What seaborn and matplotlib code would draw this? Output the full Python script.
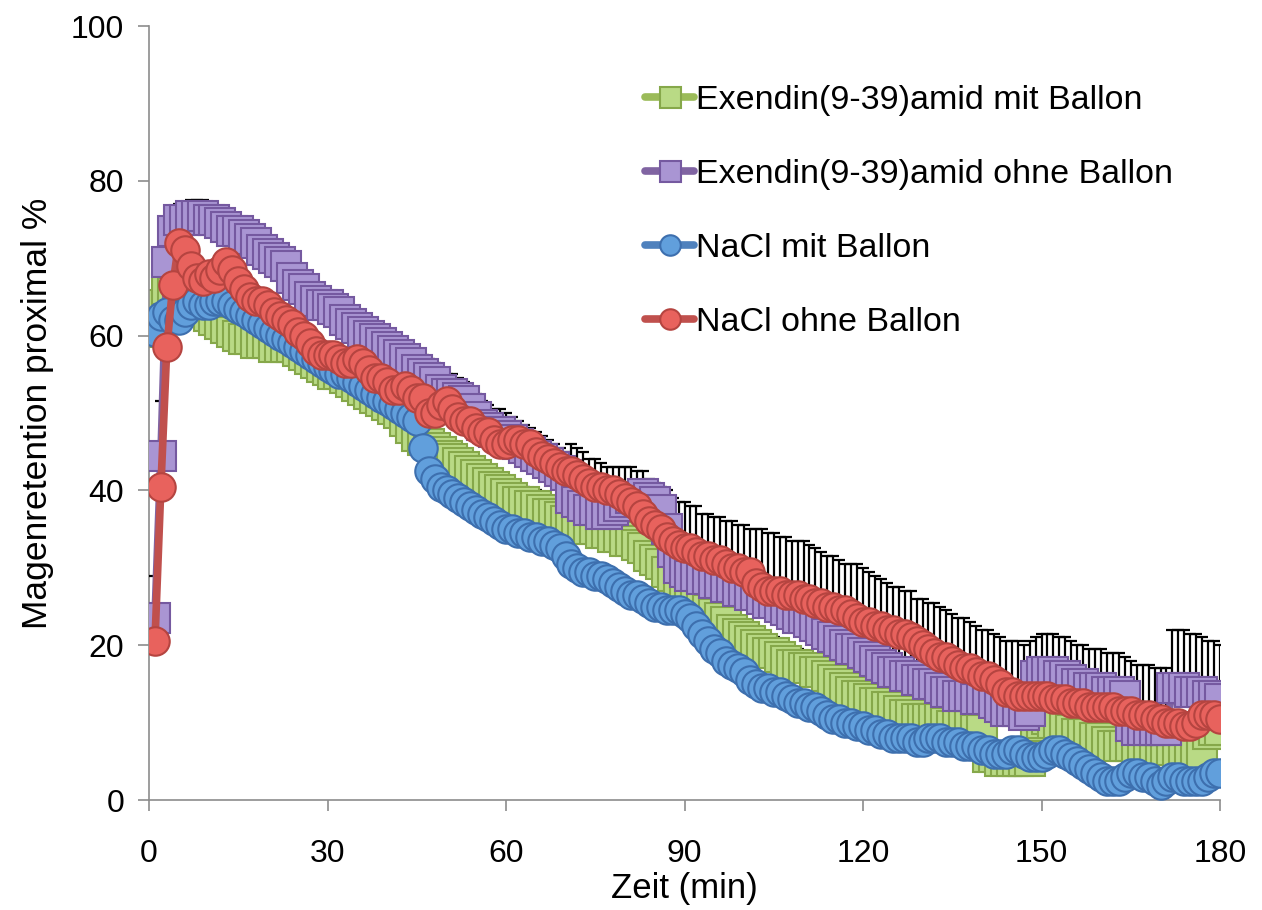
import numpy as np
import pandas as pd
import matplotlib
matplotlib.use("Agg")
import matplotlib.pyplot as plt
import seaborn as sns

# Zeitpunkte (min)
zeit = list(range(1, 181))

# Magenretention proximal (%) je Gruppe
exendin_mit = [
    60.5, 64.0, 66.0, 65.5, 64.5, 64.0, 63.5, 63.5, 63.0, 62.5,
    62.0, 61.5, 61.0, 60.5, 60.0, 59.5, 59.5, 59.0, 59.0, 59.0,
    58.5, 58.5, 58.5, 58.5, 58.0, 57.5, 57.0, 56.5, 56.0, 55.5,
    55.0, 55.0, 54.5, 54.0, 53.5, 53.0, 52.5, 52.0, 51.5, 51.0,
    50.5, 50.0, 49.0, 48.0, 47.0, 46.5, 46.0, 45.5, 45.0, 44.5,
    44.0, 43.5, 43.0, 42.5, 42.0, 41.5, 41.0, 40.5, 40.0, 39.5,
    39.0, 38.5, 38.5, 38.0, 38.0, 37.5, 37.0, 37.0, 36.5, 36.0,
    36.0, 35.5, 35.5, 35.0, 35.0, 34.5, 34.5, 34.0, 34.0, 33.5,
    33.5, 33.0, 32.5, 31.5, 31.0, 30.5, 29.5, 29.0, 28.0, 27.5,
    26.5, 26.0, 25.0, 24.5, 24.0, 23.5, 23.0, 22.0, 21.5, 21.0,
    20.5, 20.0, 19.5, 19.0, 19.0, 18.5, 18.0, 17.5, 17.5, 17.0,
    17.0, 16.5, 16.5, 16.0, 15.5, 15.0, 14.5, 14.0, 13.5, 13.5,
    13.0, 12.5, 12.5, 12.0, 12.0, 11.5, 11.0, 11.0, 10.5, 10.5,
    10.5, 10.5, 10.5, 10.0, 9.5, 9.5, 9.5, 9.5, 9.0, 9.0,
    5.5, 5.5, 5.0, 5.0, 5.0, 5.0, 5.0, 5.0, 9.5, 10.0,
    10.5, 10.0, 10.0, 9.5, 9.0, 8.5, 8.5, 8.5, 8.0, 8.0,
    7.5, 7.0, 7.0, 7.0, 7.0, 6.5, 6.5, 6.5, 6.5, 6.5,
    6.5, 6.5, 6.0, 6.0, 6.0, 6.0, 6.0, 8.5, 9.0, 9.0,
]
exendin_ohne = [
    23.5, 44.5, 69.5, 73.5, 75.0, 75.0, 75.5, 75.5, 75.5, 75.0,
    75.0, 74.5, 74.0, 73.5, 73.5, 73.0, 72.5, 72.0, 71.0, 70.5,
    70.0, 69.5, 69.0, 67.5, 66.5, 66.0, 65.0, 64.5, 64.0, 64.0,
    63.5, 63.0, 62.0, 61.5, 61.0, 60.5, 60.0, 59.5, 59.0, 58.5,
    58.0, 57.5, 57.0, 56.5, 55.5, 55.0, 54.5, 54.0, 53.0, 52.5,
    52.5, 52.0, 51.5, 50.5, 49.5, 48.5, 48.0, 47.5, 47.5, 47.0,
    46.5, 46.0, 45.5, 45.0, 44.5, 44.0, 43.5, 43.0, 42.5, 42.0,
    39.0, 38.5, 38.0, 37.5, 37.5, 37.0, 37.0, 37.5, 38.0, 38.5,
    39.0, 39.0, 39.5, 39.0, 38.5, 37.5, 35.0, 32.0, 30.0, 29.5,
    29.0, 29.0, 28.5, 28.5, 28.0, 28.0, 27.5, 27.5, 27.0, 27.0,
    26.5, 26.5, 26.0, 25.5, 25.5, 25.0, 24.5, 24.0, 23.5, 23.5,
    23.0, 22.5, 22.0, 21.5, 21.0, 20.5, 20.0, 19.5, 19.5, 19.0,
    18.5, 18.0, 17.5, 17.0, 16.5, 16.5, 16.0, 16.0, 15.5, 15.5,
    15.0, 15.0, 14.5, 14.0, 14.0, 13.5, 13.5, 13.5, 13.0, 13.0,
    13.0, 12.5, 12.0, 11.5, 11.5, 11.5, 11.0, 11.5, 16.0, 16.5,
    16.5, 16.5, 16.0, 16.0, 15.5, 15.0, 15.0, 14.5, 14.5, 14.5,
    14.0, 14.0, 14.0, 13.5, 9.5, 9.0, 9.0, 9.0, 9.0, 9.0,
    9.0, 14.5, 14.5, 14.5, 14.0, 14.0, 14.0, 13.5, 13.5, 13.0,
]
nacl_mit = [
    60.5, 62.5, 63.0, 62.0, 62.0, 63.0, 64.0, 64.5, 64.0, 64.0,
    64.5, 64.5, 64.5, 64.0, 63.5, 63.0, 62.5, 62.0, 61.5, 61.0,
    60.5, 60.0, 59.5, 59.0, 58.5, 58.0, 57.5, 57.0, 56.5, 56.0,
    55.5, 55.0, 55.0, 54.5, 54.0, 53.5, 53.0, 52.5, 52.0, 51.5,
    51.0, 50.5, 50.0, 49.5, 49.0, 45.5, 42.5, 41.5, 40.5, 40.0,
    39.5, 39.0, 38.5, 38.0, 37.5, 37.0, 36.5, 36.0, 35.5, 35.0,
    35.0, 34.5, 34.5, 34.0, 34.0, 33.5, 33.5, 33.0, 32.5, 31.5,
    30.5, 30.0, 29.5, 29.5, 29.0, 29.0, 28.5, 28.0, 27.5, 27.0,
    26.5, 26.5, 26.0, 25.5, 25.0, 25.0, 24.5, 24.5, 24.5, 24.0,
    23.5, 22.5, 21.5, 20.5, 19.5, 19.0, 18.0, 17.5, 17.0, 16.5,
    15.5, 15.0, 14.5, 14.5, 14.0, 14.0, 13.5, 13.0, 12.5, 12.5,
    12.0, 12.0, 11.5, 11.0, 10.5, 10.5, 10.0, 10.0, 9.5, 9.5,
    9.0, 9.0, 8.5, 8.5, 8.0, 8.0, 8.0, 8.0, 7.5, 7.5,
    8.0, 8.0, 8.0, 7.5, 7.5, 7.5, 7.0, 7.0, 7.0, 6.5,
    6.5, 6.0, 6.0, 6.0, 6.5, 6.5, 6.0, 5.5, 5.5, 5.5,
    6.0, 6.5, 6.5, 6.0, 5.5, 5.0, 4.5, 4.0, 3.5, 3.0,
    2.5, 2.5, 2.5, 3.0, 3.5, 3.5, 3.0, 3.0, 2.5, 2.0,
    2.5, 3.0, 3.0, 2.5, 2.5, 2.5, 2.5, 3.0, 3.5, 3.5,
]
nacl_ohne = [
    20.5, 40.5, 58.5, 66.5, 72.0, 71.0, 69.0, 67.5, 67.0, 68.0,
    67.5, 68.5, 69.5, 68.5, 67.0, 66.0, 65.0, 64.5, 64.5, 64.0,
    63.0, 62.5, 62.0, 61.5, 60.5, 60.0, 59.0, 58.0, 57.5, 57.5,
    57.5, 57.0, 56.5, 56.5, 57.0, 56.5, 55.5, 54.5, 54.5, 54.0,
    53.0, 53.0, 53.5, 53.0, 52.0, 52.0, 50.0, 50.0, 51.0, 51.5,
    50.5, 49.5, 49.0, 49.0, 48.0, 47.5, 47.5, 46.5, 46.0, 46.0,
    46.5, 46.5, 46.0, 46.0, 45.0, 44.5, 44.0, 43.5, 43.0, 42.5,
    42.5, 42.0, 41.5, 41.0, 40.5, 40.5, 40.0, 40.0, 39.5, 39.0,
    38.5, 38.0, 37.0, 36.0, 35.5, 35.0, 34.0, 33.5, 33.0, 32.5,
    32.5, 32.0, 31.5, 31.5, 31.0, 31.0, 30.5, 30.0, 30.0, 29.5,
    29.5, 28.0, 27.5, 27.0, 27.0, 27.0, 26.5, 26.5, 26.5, 26.0,
    26.0, 25.5, 25.5, 25.0, 25.0, 24.5, 24.5, 24.0, 23.5, 23.0,
    23.0, 22.5, 22.5, 22.0, 22.0, 21.5, 21.5, 21.0, 20.5, 20.0,
    19.5, 19.0, 18.5, 18.5, 18.0, 17.5, 17.0, 17.0, 16.5, 16.0,
    16.0, 15.5, 15.0, 14.0, 14.0, 13.5, 13.5, 13.5, 13.5, 13.5,
    13.5, 13.0, 13.0, 13.0, 12.5, 12.5, 12.5, 12.0, 12.0, 12.0,
    12.0, 12.0, 11.5, 11.5, 11.5, 11.0, 11.0, 11.0, 10.5, 10.5,
    10.0, 10.0, 10.0, 9.5, 9.5, 10.0, 11.0, 11.0, 11.0, 10.5,
]

# Fehlerbalken (nur nach oben)
fehler_exendin_mit = [
    2.0, 2.0, 1.5, 1.5, 1.5, 1.5, 1.5, 1.5, 1.5, 1.5,
    1.5, 1.5, 1.5, 1.5, 1.5, 1.5, 1.5, 1.5, 1.5, 1.5,
    1.5, 1.5, 1.5, 1.5, 1.5, 1.5, 1.5, 1.5, 1.5, 1.5,
    1.5, 1.5, 1.5, 1.5, 1.5, 1.5, 1.5, 1.5, 1.5, 1.5,
    1.5, 1.5, 1.5, 1.5, 1.5, 1.5, 1.5, 1.5, 1.5, 1.5,
    1.5, 1.5, 1.5, 1.5, 1.5, 2.0, 2.0, 2.0, 2.0, 2.0,
    2.0, 2.0, 2.0, 2.0, 2.0, 2.0, 2.0, 2.0, 2.0, 2.0,
    2.0, 2.0, 2.0, 2.0, 2.0, 2.0, 2.0, 2.0, 2.0, 2.0,
    2.0, 2.0, 2.0, 2.0, 2.0, 2.0, 2.0, 2.0, 2.0, 2.0,
    2.0, 2.0, 2.0, 2.0, 2.0, 2.0, 2.0, 2.0, 2.0, 2.0,
    2.0, 2.0, 2.0, 2.0, 2.0, 2.0, 2.0, 2.0, 2.0, 2.0,
    1.5, 1.5, 1.5, 1.5, 1.5, 1.5, 1.5, 1.5, 1.5, 1.5,
    1.5, 1.5, 1.5, 1.5, 1.5, 1.5, 1.5, 1.5, 1.5, 1.5,
    1.5, 1.5, 1.5, 1.5, 1.5, 1.5, 1.5, 1.5, 1.5, 1.5,
    1.5, 1.5, 1.5, 1.5, 1.5, 1.5, 1.5, 1.5, 1.5, 1.5,
    1.5, 1.5, 1.5, 1.5, 1.5, 1.5, 1.5, 1.5, 2.0, 2.0,
    2.0, 2.5, 2.5, 2.5, 2.5, 2.5, 2.5, 2.5, 2.5, 2.5,
    2.5, 2.5, 2.5, 2.5, 2.5, 2.5, 2.5, 1.5, 1.5, 1.5,
]
fehler_exendin_ohne = [
    5.5, 7.0, 3.0, 2.5, 2.0, 2.0, 2.0, 2.0, 2.0, 1.5,
    1.5, 1.5, 1.5, 1.5, 1.5, 1.5, 1.5, 1.5, 1.5, 1.5,
    1.5, 1.5, 1.5, 1.5, 1.5, 1.5, 1.5, 1.5, 1.5, 1.5,
    1.5, 1.5, 1.5, 1.5, 1.5, 2.0, 2.0, 2.0, 2.0, 2.0,
    2.0, 2.0, 2.0, 2.0, 2.5, 2.5, 2.5, 2.5, 2.5, 2.5,
    2.5, 2.5, 2.5, 2.5, 3.0, 3.0, 3.0, 3.0, 3.0, 3.0,
    3.0, 3.0, 3.0, 3.0, 3.0, 3.0, 3.0, 3.0, 3.0, 3.0,
    7.0, 7.0, 7.0, 6.5, 6.5, 6.5, 6.0, 5.5, 5.0, 4.5,
    4.0, 3.5, 3.0, 2.5, 2.5, 3.0, 5.0, 7.0, 8.5, 9.0,
    9.0, 9.0, 8.5, 8.5, 8.5, 8.5, 8.5, 8.5, 8.5, 8.5,
    8.5, 8.5, 9.0, 9.0, 9.0, 9.0, 9.5, 9.5, 10.0, 10.0,
    10.0, 10.0, 10.0, 10.0, 10.5, 10.5, 10.5, 11.0, 11.0, 11.0,
    11.0, 11.0, 11.0, 11.0, 11.0, 11.0, 11.0, 11.0, 10.5, 10.5,
    10.5, 10.5, 10.5, 10.5, 10.0, 10.0, 10.0, 9.5, 9.5, 9.0,
    9.0, 9.0, 9.0, 9.0, 9.0, 9.0, 9.0, 9.0, 5.0, 5.0,
    5.0, 5.0, 5.0, 5.0, 5.0, 5.0, 5.0, 5.0, 5.0, 5.0,
    5.0, 5.0, 5.0, 5.0, 8.5, 8.5, 8.5, 8.5, 8.0, 8.0,
    8.0, 7.5, 7.5, 7.5, 7.5, 7.5, 7.0, 7.0, 7.0, 7.0,
]

labels = [
    "Exendin(9-39)amid mit Ballon",
    "Exendin(9-39)amid ohne Ballon",
    "NaCl mit Ballon",
    "NaCl ohne Ballon",
]

sns.set_theme(style="white")
plt.rcParams["font.family"] = ["Liberation Sans", "DejaVu Sans"]
plt.rcParams["text.color"] = "black"
plt.rcParams["axes.labelcolor"] = "black"
plt.rcParams["xtick.color"] = "black"
plt.rcParams["ytick.color"] = "black"

fig = plt.figure(figsize=(12.62, 9.10), dpi=100)
ax = fig.add_axes([149 / 1262, 1 - 800 / 910, (1220 - 149) / 1262, (800 - 26) / 910])

series = [
    (exendin_mit, fehler_exendin_mit, "s", "#9bbb59", "#b9da85", "#86a84a", 21),
    (exendin_ohne, fehler_exendin_ohne, "s", "#8064a2", "#a995d3", "#7559a0", 21),
    (nacl_mit, None, "o", "#4f81bd", "#619fdc", "#3d6fae", 20.5),
    (nacl_ohne, None, "o", "#c0504d", "#e8625d", "#b54440", 20.5),
]

for i, (werte, fehler, mk, lc, fc, ec, ms) in enumerate(series):
    z = 2 + i
    if fehler is not None:
        ax.errorbar(zeit, werte, yerr=[np.zeros(len(fehler)), fehler], fmt="none",
                    ecolor="black", elinewidth=1.6, capsize=4, capthick=1.6, zorder=z)
    sns.lineplot(x=zeit, y=werte, ax=ax, color=lc, linewidth=5.5,
                 marker=mk, markersize=ms, markerfacecolor=fc,
                 markeredgecolor=ec, markeredgewidth=1.5,
                 label=labels[i], zorder=z + 0.5)

ax.set_xlim(0, 180)
ax.set_ylim(0, 100)
ax.set_xticks([0, 30, 60, 90, 120, 150, 180])
ax.set_yticks([0, 20, 40, 60, 80, 100])
ax.set_xlabel("Zeit (min)", fontsize=25, labelpad=2)
ax.set_ylabel("Magenretention proximal %", fontsize=25.5, labelpad=12)
ax.tick_params(axis="both", labelsize=23, direction="out", length=8,
               width=1.2, color="#8c8c8c", left=True, bottom=True)
ax.tick_params(axis="y", pad=10)
ax.tick_params(axis="x", pad=20)
for s in ["top", "right"]:
    ax.spines[s].set_visible(False)
for s in ["left", "bottom"]:
    ax.spines[s].set_color("#8c8c8c")
    ax.spines[s].set_linewidth(1.2)

leg = ax.legend(loc="upper left", bbox_to_anchor=(645 / 1262, 1 - 85 / 910),
                bbox_transform=fig.transFigure, frameon=False, fontsize=24.5,
                handlelength=1.45, handletextpad=0.05, labelspacing=1.26,
                markerscale=0.72, borderpad=0, borderaxespad=0)

fig.savefig("out.png", dpi=100)
